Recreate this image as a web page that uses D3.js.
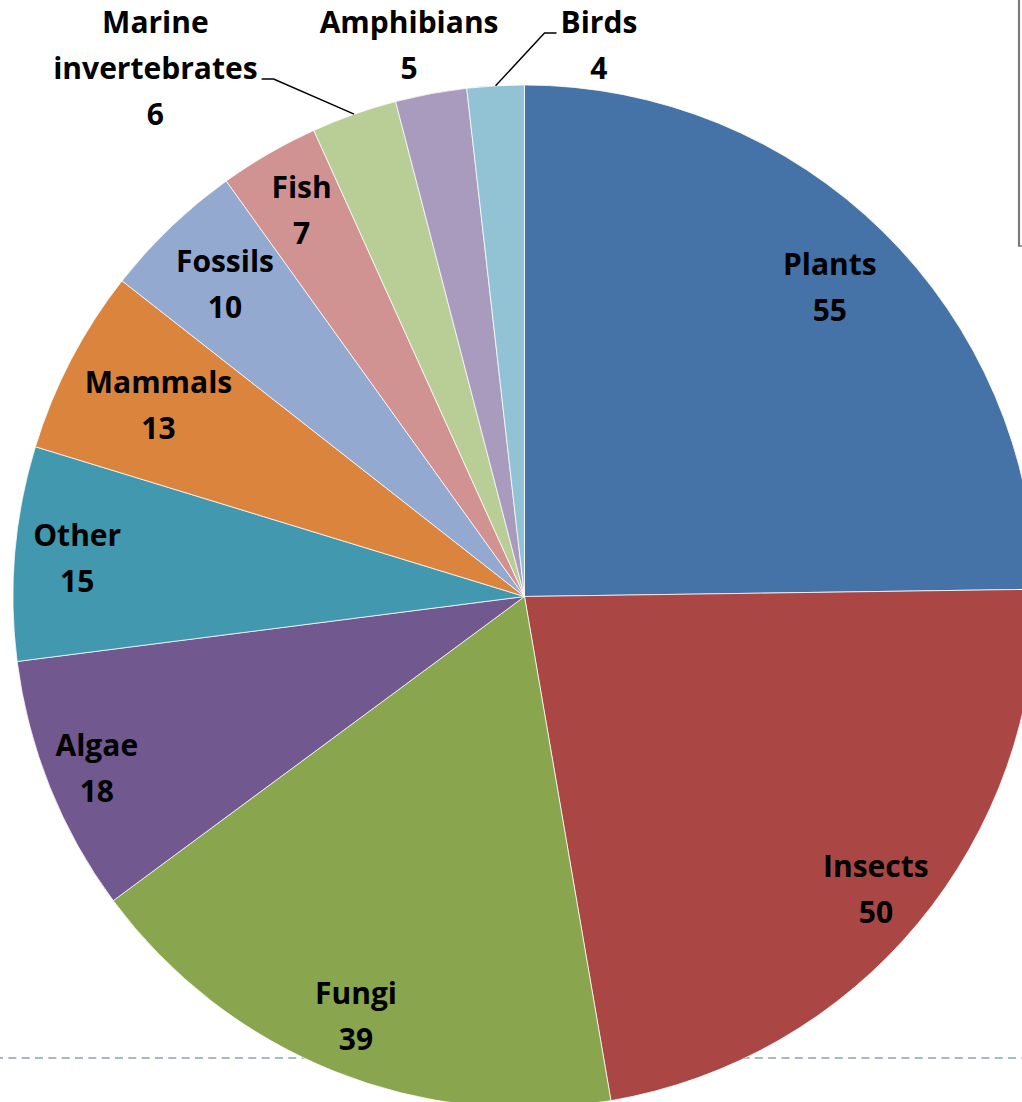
<!DOCTYPE html>
<html>
<head>
<meta charset="utf-8">
<script src="https://cdn.jsdelivr.net/npm/d3@7"></script>
<style>
  html, body { margin: 0; padding: 0; background: #fff; overflow: hidden; }
  text { font-family: "Open Sans", "Noto Sans", sans-serif; font-weight: 700; font-size: 30px; fill: #000; }
</style>
</head>
<body>
<svg id="chart" width="1022" height="1102"></svg>
<script>
// Specimen counts per collection group
const categories = ["Plants", "Insects", "Fungi", "Algae", "Other", "Mammals", "Fossils", "Fish", "Marine invertebrates", "Amphibians", "Birds"];
const counts = [55, 50, 39, 18, 15, 13, 10, 7, 6, 5, 4];
const sliceColors = ["#4572A7", "#AA4643", "#89A54E", "#71588F", "#4198AF", "#DB843D", "#93A9CF", "#D19392", "#B9CD96", "#A99BBD", "#92C3D5"];

const W = 1022, H = 1102;
const cx = 524.5, cy = 596.5, R = 511.5;
const LH = 46;      // label line spacing
const CAP = 22;     // glyph height, for baseline placement
const BOX = 40;     // line box height used when fitting labels inside slices
const svg = d3.select("#chart");

// decorative frame pieces: dashed rule behind the pie and a divider at the upper right
svg.append("line")
  .attr("x1", 0).attr("x2", W).attr("y1", 1058).attr("y2", 1058)
  .attr("stroke", "#a5b8cc").attr("stroke-width", 2.2)
  .attr("stroke-dasharray", "8,5.33").attr("stroke-dashoffset", 5);
svg.append("line")
  .attr("x1", 1019).attr("x2", 1019).attr("y1", 0).attr("y2", 246)
  .attr("stroke", "#7a7a7a").attr("stroke-width", 2.2);
svg.append("line")
  .attr("x1", 1018).attr("x2", 1022).attr("y1", 246).attr("y2", 246)
  .attr("stroke", "#7a7a7a").attr("stroke-width", 1.5);

const data = categories.map((c, i) => ({ name: c, value: counts[i], color: sliceColors[i] }));
const pie = d3.pie().value(d => d.value).sort(null).startAngle(0).endAngle(2 * Math.PI);
const arcs = pie(data);
const arcGen = d3.arc().innerRadius(0).outerRadius(R);

const g = svg.append("g").attr("transform", `translate(${cx},${cy})`);
g.selectAll("path.slice").data(arcs).join("path")
  .attr("class", "slice")
  .attr("d", arcGen)
  .attr("fill", d => d.data.color)
  .attr("stroke", "#ffffff").attr("stroke-opacity", 0.75).attr("stroke-width", 1);

// text measuring helper
const meas = svg.append("text").attr("visibility", "hidden");
function textWidth(s) { meas.text(s); return meas.node().getComputedTextLength(); }

function splitLines(d) {
  return d.data.name.split(" ").concat([String(d.data.value)]);
}
function polar(r, a) { return [r * Math.sin(a), -r * Math.cos(a)]; }

const labelLayer = g.append("g");
function drawBlock(lines, x, yTop) {
  const t = labelLayer.append("text").attr("text-anchor", "middle");
  lines.forEach((l, i) => {
    t.append("tspan").attr("x", x).attr("y", yTop + i * LH + CAP / 2).text(l);
  });
}

const outside = [];
arcs.forEach(d => {
  const lines = splitLines(d);
  const widths = lines.map(textWidth);
  const mid = (d.startAngle + d.endAngle) / 2;
  const span = d.endAngle - d.startAngle;
  if (span > 0.18) {
    // inside label: pull inward until every line box fits within the rim
    const limit = 0.975 * R;
    const n = lines.length;
    let r = 0.905 * R, pos;
    for (; r > 0.3 * R; r -= 1) {
      pos = polar(r, mid);
      let ok = true;
      lines.forEach((l, i) => {
        const yc = pos[1] + (i - (n - 1) / 2) * LH;
        const xs = [pos[0] - widths[i] / 2, pos[0] + widths[i] / 2];
        const ys = [yc - BOX / 2, yc + BOX / 2];
        xs.forEach(x => ys.forEach(y => { if (Math.hypot(x, y) > limit) ok = false; }));
      });
      if (ok) break;
    }
    drawBlock(lines, pos[0], pos[1] - (n - 1) / 2 * LH);
  } else {
    outside.push({ d, lines, widths, mid, w: d3.max(widths), target: polar(1.4 * R, mid)[0] });
  }
});

// outside labels sit in a row above the pie, spread apart horizontally
const gap = 62;
outside.sort((a, b) => a.target - b.target);
outside.forEach(o => o.x = o.target);
for (let it = 0; it < 400; it++) {
  for (let i = 0; i < outside.length - 1; i++) {
    const a = outside[i], b = outside[i + 1];
    const need = a.w / 2 + gap + b.w / 2;
    const have = b.x - a.x;
    if (have < need) { const s = (need - have) / 2; a.x -= s; b.x += s; }
  }
}
const rowTop = -R - 63;
outside.forEach(o => {
  drawBlock(o.lines, o.x, rowTop);
  const edge = polar(R, o.mid);
  if (Math.abs(o.x - edge[0]) > 50) {
    // leader line: short horizontal stub at the widest line, then down to the rim
    const wi = o.widths.indexOf(o.w);
    const ya = rowTop + wi * LH + CAP / 2;
    const side = o.x < edge[0] ? 1 : -1;
    const x0 = o.x + side * (o.w / 2 + 4);
    const x1 = x0 + side * 12;
    labelLayer.append("path")
      .attr("d", `M${x0},${ya}L${x1},${ya}L${edge[0]},${edge[1]}`)
      .attr("fill", "none").attr("stroke", "#000").attr("stroke-width", 1.4);
  }
});
meas.remove();
</script>
</body>
</html>
